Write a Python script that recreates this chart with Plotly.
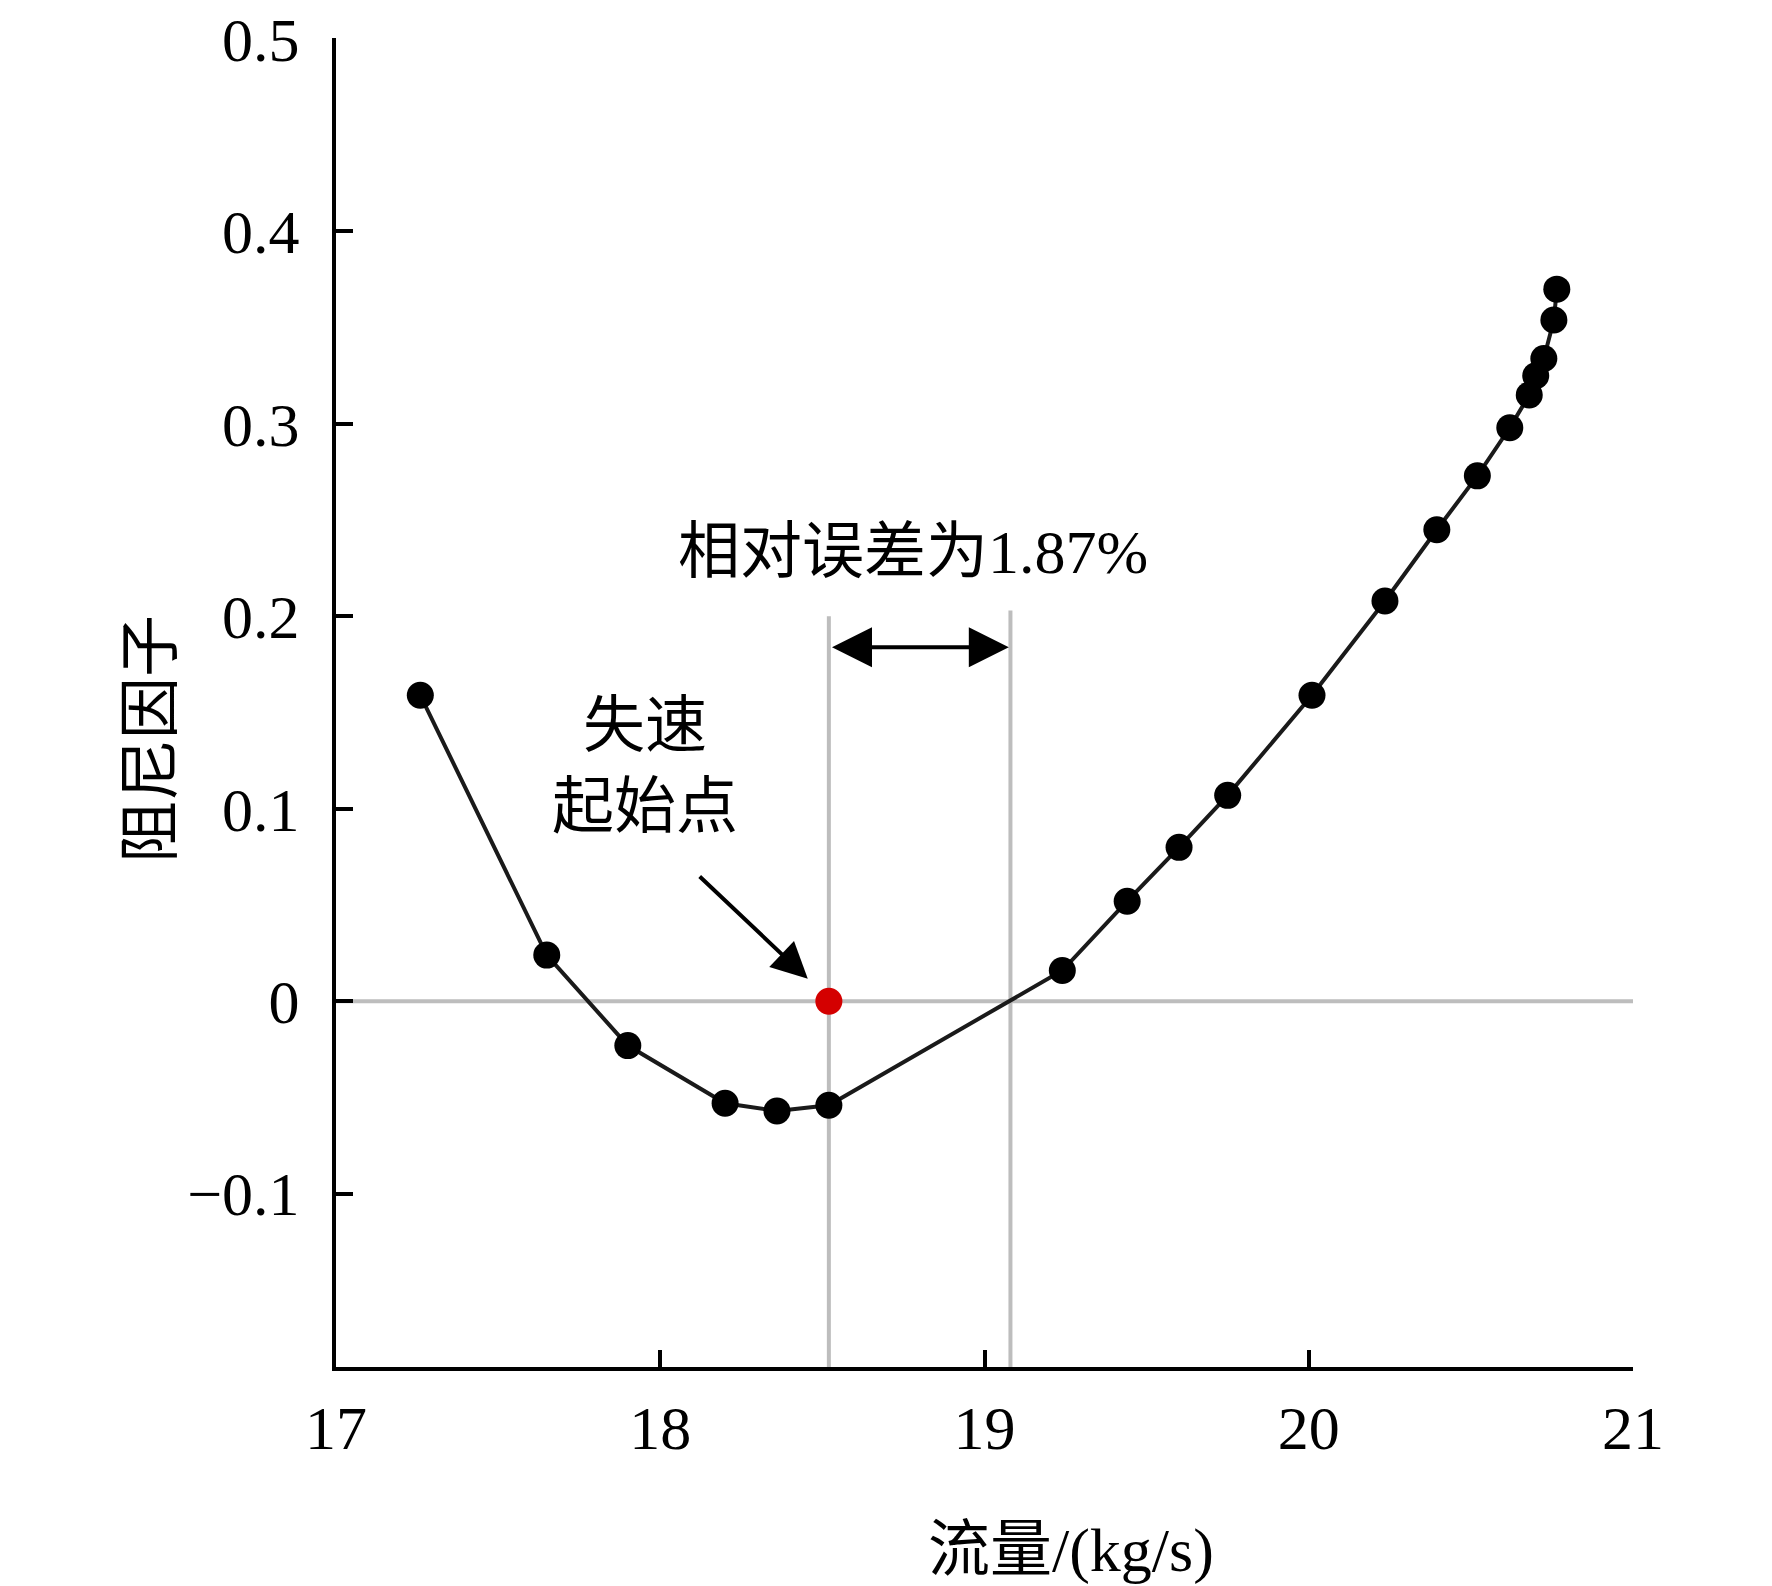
import plotly.graph_objects as go

# Data
flow = [17.26, 17.65, 17.90, 18.20, 18.36, 18.52, 19.24, 19.44, 19.60, 19.75,
        20.01, 20.235, 20.395, 20.52, 20.62, 20.68, 20.70, 20.725, 20.756, 20.765]
damping = [0.159, 0.024, -0.023, -0.053, -0.057, -0.054, 0.016, 0.052, 0.080, 0.107,
           0.159, 0.208, 0.245, 0.273, 0.298, 0.315, 0.325, 0.334, 0.354, 0.370]

stall_x = [18.52]
stall_y = [0.0]

zero_cross_x = 19.08

x_ticks = [17, 18, 19, 20, 21]
y_ticks = [-0.1, 0, 0.1, 0.2, 0.3, 0.4, 0.5]
y_ticktext = ["\u22120.1", "0", "0.1", "0.2", "0.3", "0.4", "0.5"]

FONT = "Liberation Serif, Times New Roman, Noto Sans CJK SC, serif"
FS = 62

W, H = 1772, 1586
L, R, T, B = 328, 147, 30, 227

fig = go.Figure()

fig.add_trace(go.Scatter(
    x=flow, y=damping, mode="lines+markers",
    line=dict(color="#1a1a1a", width=4),
    marker=dict(color="black", size=27),
    showlegend=False, hoverinfo="skip",
))
fig.add_trace(go.Scatter(
    x=stall_x, y=stall_y, mode="markers",
    marker=dict(color="#d40000", size=27),
    showlegend=False, hoverinfo="skip",
))

GRAY = "#bdbdbd"
fig.add_shape(type="line", xref="x", yref="y", x0=17, x1=21.01, y0=0, y1=0,
              line=dict(color=GRAY, width=4), layer="below")
fig.add_shape(type="line", xref="x", yref="y", x0=stall_x[0], x1=stall_x[0], y0=-0.19, y1=0.200,
              line=dict(color=GRAY, width=4), layer="below")
fig.add_shape(type="line", xref="x", yref="y", x0=zero_cross_x, x1=zero_cross_x, y0=-0.19, y1=0.203,
              line=dict(color=GRAY, width=4), layer="below")

# double arrow
fig.add_annotation(x=zero_cross_x - 0.005, y=0.184, ax=stall_x[0] + 0.005, ay=0.184,
                   xref="x", yref="y", axref="x", ayref="y",
                   showarrow=True, arrowhead=2, startarrowhead=2, arrowside="end+start",
                   arrowsize=2, startarrowsize=2, arrowwidth=4, arrowcolor="black", text="")
fig.add_annotation(x=18.78, y=0.2336, xref="x", yref="y", text="相对误差为1.87%",
                   showarrow=False, xanchor="center", yanchor="middle",
                   font=dict(family=FONT, size=FS, color="black"))

# stall onset label and arrow
fig.add_annotation(x=17.953, y=0.122, xref="x", yref="y", text="失速<br>起始点",
                   showarrow=False, align="center", xanchor="center", yanchor="middle",
                   font=dict(family=FONT, size=FS, color="black"))
fig.add_annotation(x=18.455, y=0.0117, ax=18.117, ay=0.0656,
                   xref="x", yref="y", axref="x", ayref="y",
                   showarrow=True, arrowhead=2, arrowsize=1.8, arrowwidth=4,
                   arrowcolor="black", text="")

# axis titles (pixel positions converted to paper coords)
def px_to_paper(px, py):
    return (px - L) / (W - L - R), ((H - py) - B) / (H - T - B)

tx, ty = px_to_paper(1063, 1542)
fig.add_annotation(x=tx, y=ty, xref="paper", yref="paper", text="流量/(kg/s)",
                   showarrow=False, xanchor="center", yanchor="middle",
                   font=dict(family=FONT, size=FS, color="black"))
tx, ty = px_to_paper(143, 731)
fig.add_annotation(x=tx, y=ty, xref="paper", yref="paper", text="阻尼因子",
                   showarrow=False, textangle=-90, xanchor="center", yanchor="middle",
                   font=dict(family=FONT, size=FS, color="black"))

fig.update_layout(
    width=W, height=H,
    margin=dict(l=L, r=R, t=T, b=B, pad=0, autoexpand=False),
    paper_bgcolor="white", plot_bgcolor="white",
    font=dict(family=FONT, size=FS, color="black"),
    xaxis=dict(range=[17, 21], tickvals=x_ticks, ticks="inside", ticklen=17, tickwidth=4,
               tickcolor="black", showline=True, linewidth=4, linecolor="black",
               showgrid=False, zeroline=False, ticklabelstandoff=4,
               ticklabeloverflow="allow", automargin=False,
               tickfont=dict(family=FONT, size=FS, color="black")),
    yaxis=dict(range=[-0.19, 0.5005], tickvals=y_ticks, ticktext=y_ticktext, ticks="inside",
               ticklen=17, tickwidth=4, tickcolor="black", showline=True, linewidth=4,
               linecolor="black", showgrid=False, zeroline=False, ticklabelstandoff=20,
               ticklabeloverflow="allow", automargin=False,
               tickfont=dict(family=FONT, size=FS, color="black")),
)

fig.write_html("out.html")
